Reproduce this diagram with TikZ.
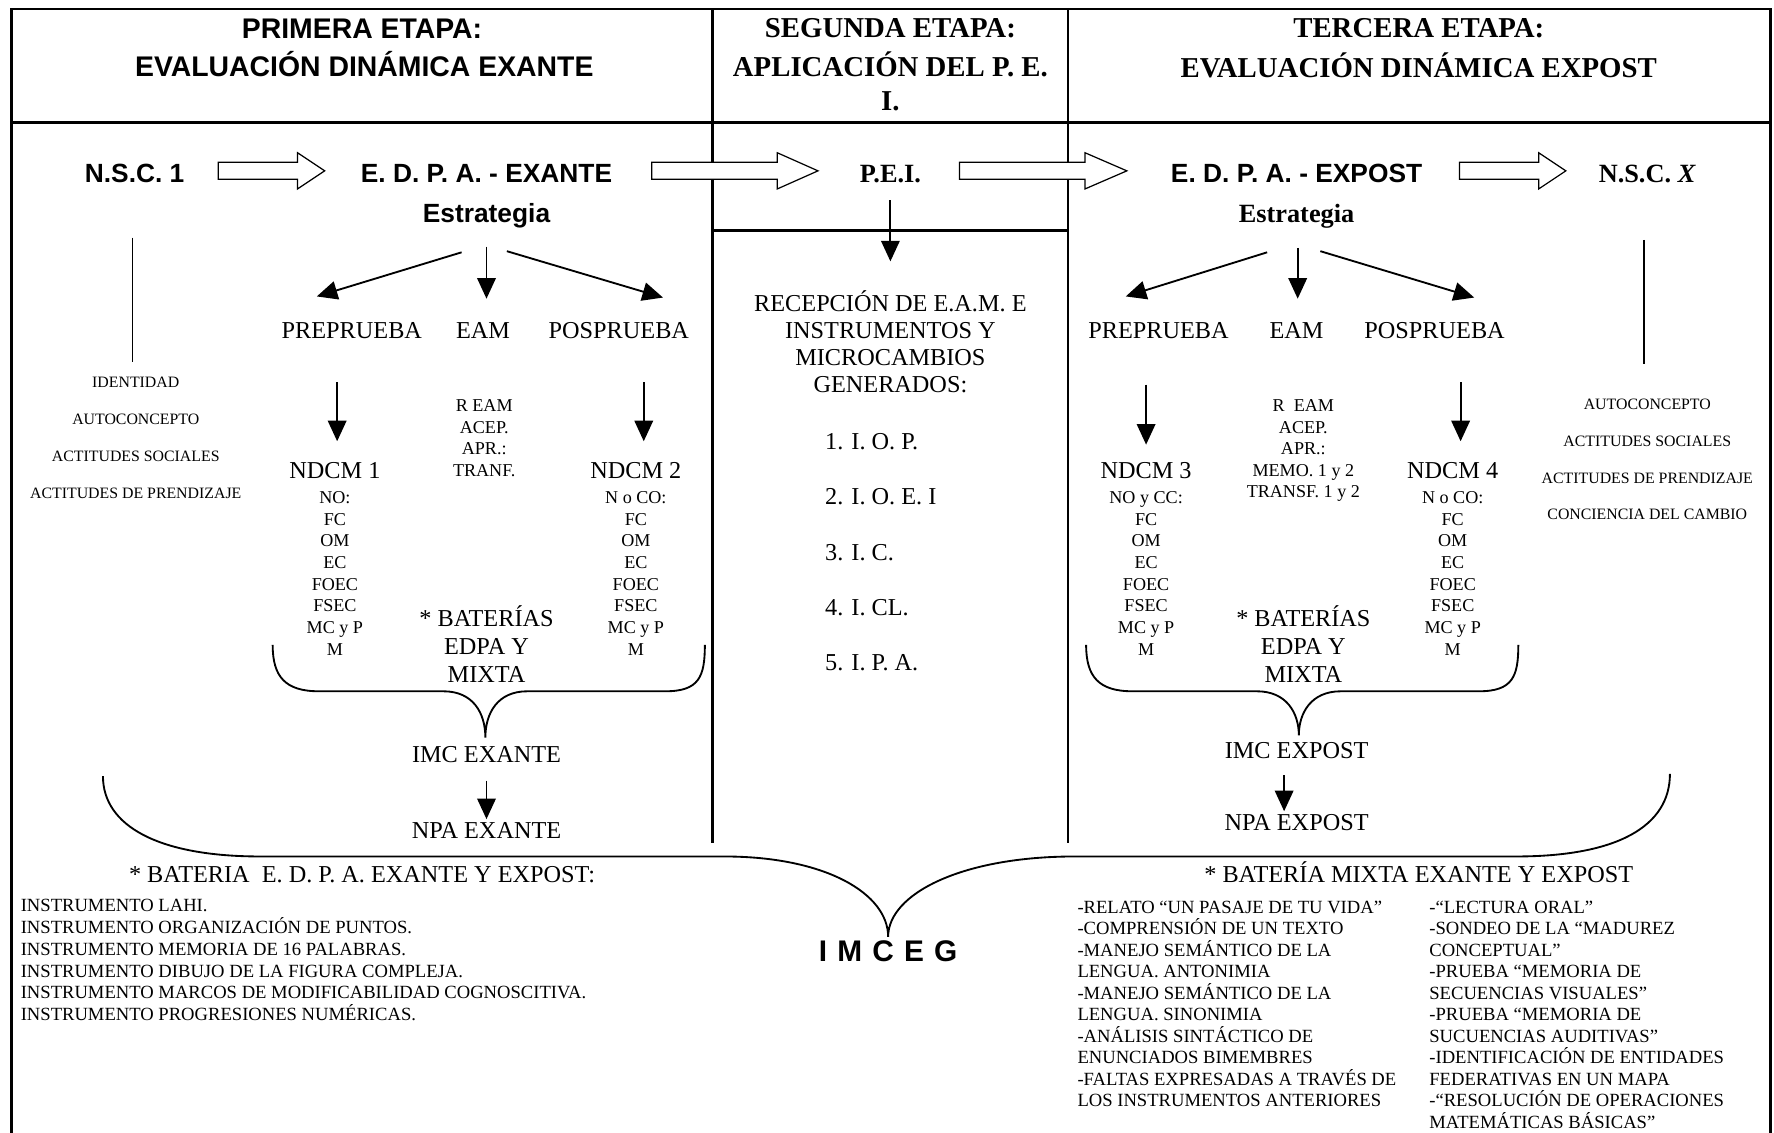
\documentclass[tikz,border=0pt]{standalone}
\usepackage{fontspec}
\setmainfont{Liberation Serif}
\setsansfont{Liberation Sans}
\usetikzlibrary{arrows.meta}

\tikzset{
  frame/.style={line width=1.4pt},
  arr/.style={line width=0.9pt, -{Triangle[length=10pt,width=9pt]}},
  brace/.style={line width=0.9pt},
  blk/.style={line width=0.6pt, fill=white},
  txt/.style={inner sep=0pt, anchor=base, font=\fontsize{11.8}{13}\selectfont},
  sml/.style={inner sep=0pt, anchor=base, font=\fontsize{8.8}{10}\selectfont},
  lst/.style={inner sep=0pt, anchor=base west, font=\fontsize{9.05}{10}\selectfont},
  tny/.style={inner sep=0pt, anchor=base, font=\fontsize{7.7}{9}\selectfont},
  hdsf/.style={inner sep=0pt, anchor=base, font=\sffamily\bfseries\fontsize{13.8}{15}\selectfont},
  hdrm/.style={inner sep=0pt, anchor=base, font=\bfseries\fontsize{14}{15}\selectfont},
  keysf/.style={inner sep=0pt, anchor=base, font=\sffamily\bfseries\fontsize{12.8}{14}\selectfont},
  keyrm/.style={inner sep=0pt, anchor=base, font=\bfseries\fontsize{12.8}{14}\selectfont},
}

% hollow block arrow: x start, x tip, head length
\newcommand\blockarrow[3]{%
  \draw[blk] (#1,143.5) -- ({#2-#3},143.5) -- ({#2-#3},135) -- (#2,151)
    -- ({#2-#3},167) -- ({#2-#3},158.5) -- (#1,158.5) -- cycle;}

\begin{document}
\begin{tikzpicture}[x=0.55pt, y=-0.55pt]
  \useasboundingbox (0,0) rectangle (1568,1001);

  % Frame and columns
  \draw[frame] (10,1001) -- (10,8) -- (1565,8) -- (1565,1001);
  \draw[frame] (10,108) -- (1565,108);
  \draw[frame] (630,8) -- (630,745);
  \draw[frame] (944,8) -- (944,745);
  \draw[frame] (630,204) -- (944,204);

  % Headers
  \node[hdsf] (h1a) at (320,34) {PRIMERA ETAPA:};
  \node[hdsf] (h1b) at (322,68) {EVALUACIÓN DINÁMICA EXANTE};
  \node[hdrm] (h2a) at (787,33.5) {SEGUNDA ETAPA:};
  \node[hdrm] (h2b) at (787,67.5) {APLICACIÓN DEL P. E.};
  \node[hdrm] (h2c) at (787,97.5) {I.};
  \node[hdrm] (h3a) at (1254,33.5) {TERCERA ETAPA:};
  \node[hdrm] (h3b) at (1254,68.5) {EVALUACIÓN DINÁMICA EXPOST};

  % Main row
  \node[keysf] (nsc1) at (119,161) {N.S.C. 1};
  \node[keysf] (edpa1) at (430,161) {E. D. P. A. - EXANTE};
  \node[keyrm] (pei) at (787,161) {P.E.I.};
  \node[keysf] (edpa2) at (1146,161) {E. D. P. A. - EXPOST};
  \node[keyrm] (nscx) at (1456,161) {N.S.C. \textit{X}};
  \blockarrow{193}{287}{24}
  \blockarrow{576}{723}{36}
  \blockarrow{848}{996}{37}
  \blockarrow{1290}{1384}{24}

  \node[keysf] (estr1) at (430,197) {Estrategia};
  \node[keyrm] (estr2) at (1146,197) {Estrategia};

  % Side lines
  \draw[line width=0.7pt] (117,210) -- (117,320);
  \draw[line width=0.7pt] (1453,212) -- (1453,322);

  % Strategy arrows
  \coordinate (s1a) at (408,223); \coordinate (t1a) at (280,262);
  \coordinate (s1b) at (430,218); \coordinate (t1b) at (430,264);
  \coordinate (s1c) at (448,222); \coordinate (t1c) at (586,263);
  \coordinate (s2a) at (1120,223); \coordinate (t2a) at (995,262);
  \coordinate (s2b) at (1147,219); \coordinate (t2b) at (1147,264);
  \coordinate (s2c) at (1167,222); \coordinate (t2c) at (1303,263);
  \foreach \s/\t in {s1a/t1a,s1b/t1b,s1c/t1c,s2a/t2a,s2b/t2b,s2c/t2c}
    \draw[arr] (\s) -- (\t);

  \node[txt] (pre1) at (311,299) {PREPRUEBA};
  \node[txt] (eam1) at (427,299) {EAM};
  \node[txt] (pos1) at (547,299) {POSPRUEBA};
  \node[txt] (pre2) at (1024,299) {PREPRUEBA};
  \node[txt] (eam2) at (1146,299) {EAM};
  \node[txt] (pos2) at (1268,299) {POSPRUEBA};

  % Down arrows
  \coordinate (d1s) at (298,338); \coordinate (d1e) at (298,390);
  \coordinate (d2s) at (569,338); \coordinate (d2e) at (569,390);
  \coordinate (d3s) at (1013,340); \coordinate (d3e) at (1013,393);
  \coordinate (d4s) at (1291,338); \coordinate (d4e) at (1291,390);
  \coordinate (p1s) at (787,177); \coordinate (p1e) at (787,231);
  \foreach \s/\t in {d1s/d1e,d2s/d2e,d3s/d3e,d4s/d4e,p1s/p1e}
    \draw[arr] (\s) -- (\t);

  \node[txt] (ndcm1) at (296,423) {NDCM 1};
  \node[txt] (ndcm2) at (562,423) {NDCM 2};
  \node[txt] (ndcm3) at (1013,423) {NDCM 3};
  \node[txt] (ndcm4) at (1284,423) {NDCM 4};

  % NDCM lists
  \foreach \t [count=\i from 0] in {NO:,FC,OM,EC,FOEC,FSEC,MC y P,M}
    \node[sml] at (296,445+19.14*\i) {\t};
  \foreach \t [count=\i from 0] in {N o CO:,FC,OM,EC,FOEC,FSEC,MC y P,M}
    \node[sml] at (562,445+19.14*\i) {\t};
  \foreach \t [count=\i from 0] in {NO y CC:,FC,OM,EC,FOEC,FSEC,MC y P,M}
    \node[sml] at (1013,445+19.14*\i) {\t};
  \foreach \t [count=\i from 0] in {N o CO:,FC,OM,EC,FOEC,FSEC,MC y P,M}
    \node[sml] at (1284,445+19.14*\i) {\t};

  % EAM lists
  \foreach \t [count=\i from 0] in {R EAM,ACEP.,APR.:,TRANF.}
    \node[sml] at (428,364+19*\i) {\t};
  \foreach \t [count=\i from 0] in {R\ \ EAM,ACEP.,APR.:,MEMO. 1 y 2,TRANSF. 1 y 2}
    \node[sml] at (1152,364+19*\i) {\t};

  % Batteries
  \foreach \t [count=\i from 0] in {* BATERÍAS,EDPA Y,MIXTA} {
    \node[txt] at (430,554+24.5*\i) {\t};
    \node[txt] at (1152,554+24.5*\i) {\t};
  }

  % Side lists
  \foreach \t [count=\i from 0] in {IDENTIDAD,AUTOCONCEPTO,ACTITUDES SOCIALES,ACTITUDES DE PRENDIZAJE}
    \node[tny] at (120,342.5+32.7*\i) {\t};
  \foreach \t [count=\i from 0] in {AUTOCONCEPTO,ACTITUDES SOCIALES,ACTITUDES DE PRENDIZAJE,CONCIENCIA DEL CAMBIO}
    \node[tny] at (1456,361.5+32.7*\i) {\t};

  % Middle column
  \foreach \t [count=\i from 0] in {RECEPCIÓN DE E.A.M. E,INSTRUMENTOS Y,MICROCAMBIOS,GENERADOS:}
    \node[txt] at (787,275+24*\i) {\t};
  \foreach \t [count=\i from 0] in {1. I. O. P.,2. I. O. E. I,3. I. C.,4. I. CL.,5. I. P. A.}
    \node[txt, anchor=base west] at (729,397+49*\i) {\t};

  % Small braces
  \draw[brace] (241,570) .. controls (241,598) and (252,611) .. (282,611) -- (392,611)
    .. controls (418,611) and (429,630) .. (429,652)
    .. controls (429,630) and (440,611) .. (466,611) -- (588,611)
    .. controls (618,611) and (623,598) .. (623,570);
  \begin{scope}[shift={(719,0)}]
    \draw[brace] (241,570) .. controls (241,598) and (252,611) .. (282,611) -- (392,611)
      .. controls (418,611) and (429,630) .. (429,650)
      .. controls (429,630) and (440,611) .. (466,611) -- (588,611)
      .. controls (618,611) and (623,598) .. (623,570);
  \end{scope}

  \node[txt] (imc1) at (430,674) {IMC EXANTE};
  \node[txt] (npa1) at (430,741) {NPA EXANTE};
  \node[txt] (imc2) at (1146,670) {IMC EXPOST};
  \node[txt] (npa2) at (1146,734) {NPA EXPOST};
  \coordinate (n1s) at (430,690); \coordinate (n1e) at (430,724);
  \coordinate (n2s) at (1135,685); \coordinate (n2e) at (1135,717);
  \draw[arr] (n1s) -- (n1e);
  \draw[arr] (n2s) -- (n2e);

  % Big brace
  \draw[brace] (91,686) .. controls (91,730) and (140,757) .. (230,757) -- (640,757)
    .. controls (730,757) and (785,790) .. (785,828)
    .. controls (785,790) and (850,757) .. (950,757) -- (1340,757)
    .. controls (1430,757) and (1476,730) .. (1476,684);
  \node[inner sep=0pt, anchor=base, font=\sffamily\bfseries\fontsize{14.5}{16}\selectfont] (imceg) at (785,850)
    {I\hspace{.34em}M\hspace{.34em}C\hspace{.34em}E\hspace{.34em}G};

  % Battery lists
  \node[txt] (bat1) at (320,780) {* BATERIA\ \ E. D. P. A. EXANTE Y EXPOST:};
  \node[txt] (bat2) at (1254,780) {* BATERÍA MIXTA EXANTE Y EXPOST};
  \foreach \t [count=\i from 0] in {INSTRUMENTO LAHI.,INSTRUMENTO ORGANIZACIÓN DE PUNTOS.,INSTRUMENTO MEMORIA DE 16 PALABRAS.,INSTRUMENTO DIBUJO DE LA FIGURA COMPLEJA.,INSTRUMENTO MARCOS DE MODIFICABILIDAD COGNOSCITIVA.,INSTRUMENTO PROGRESIONES NUMÉRICAS.}
    \node[lst] at (18,806+19.2*\i) {\t};
  \foreach \t [count=\i from 0] in {-RELATO “UN PASAJE DE TU VIDA”,-COMPRENSIÓN DE UN TEXTO,-MANEJO SEMÁNTICO DE LA,LENGUA. ANTONIMIA,-MANEJO SEMÁNTICO DE LA,LENGUA. SINONIMIA,-ANÁLISIS SINTÁCTICO DE,ENUNCIADOS BIMEMBRES,-FALTAS EXPRESADAS A TRAVÉS DE,LOS INSTRUMENTOS ANTERIORES}
    \node[lst] at (952,807+19*\i) {\t};
  \foreach \t [count=\i from 0] in {-“LECTURA ORAL”,-SONDEO DE LA “MADUREZ,CONCEPTUAL”,-PRUEBA “MEMORIA DE,SECUENCIAS VISUALES”,-PRUEBA “MEMORIA DE,SUCUENCIAS AUDITIVAS”,-IDENTIFICACIÓN DE ENTIDADES,FEDERATIVAS EN UN MAPA,-“RESOLUCIÓN DE OPERACIONES,MATEMÁTICAS BÁSICAS”}
    \node[lst] at (1263,807+19*\i) {\t};
\end{tikzpicture}
\end{document}
